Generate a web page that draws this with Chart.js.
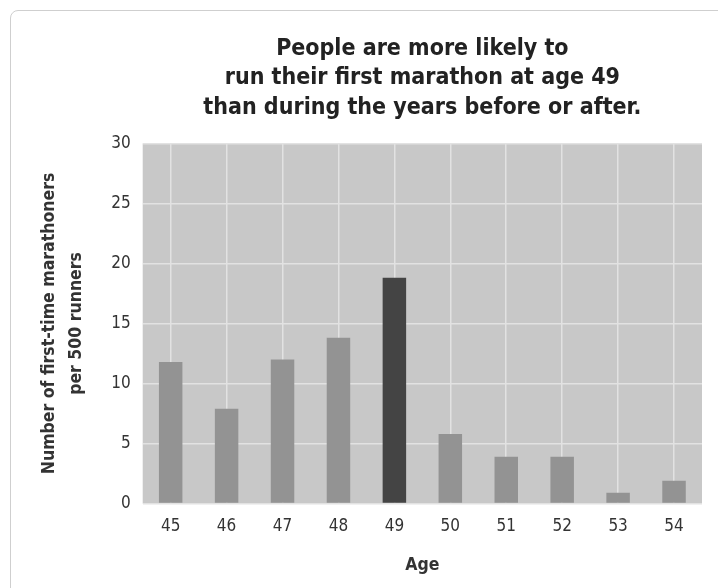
<!DOCTYPE html>
<html>
<head>
<meta charset="utf-8">
<script src="https://cdn.jsdelivr.net/npm/chart.js@4"></script>
<style>
  body { margin: 0; background: #fff; }
  #card {
    position: absolute; left: 10px; top: 10px; width: 740px; height: 600px;
    border: 1px solid #cfcfcf; border-radius: 8px; box-sizing: border-box;
  }
  #wrap { position: absolute; left: 0; top: 0; width: 718px; height: 588px; }
</style>
</head>
<body>
<div id="card"></div>
<div id="wrap"><canvas id="barChart"></canvas></div>
<script>
const ages = ['45', '46', '47', '48', '49', '50', '51', '52', '53', '54'];
const runnersPer500 = [11.8, 7.9, 12, 13.8, 18.8, 5.8, 3.9, 3.9, 0.9, 1.9];
const barColors = ['#939393', '#939393', '#939393', '#939393', '#444444',
                   '#939393', '#939393', '#939393', '#939393', '#939393'];

const FONT = "'Liberation Sans Narrow', 'DejaVu Sans Condensed', 'Liberation Sans', sans-serif";

// grey plot background behind the grid
const plotBg = {
  id: 'plotBg',
  beforeDraw(chart) {
    const { ctx, chartArea: a } = chart;
    ctx.save();
    ctx.fillStyle = '#c8c8c8';
    ctx.fillRect(a.left, a.top, a.right - a.left, a.bottom - a.top);
    ctx.restore();
  }
};

const ctx = document.getElementById('barChart');
const myChart = new Chart(ctx, {
  type: 'bar',
  data: {
    labels: ages,
    datasets: [{
      data: runnersPer500,
      backgroundColor: barColors,
      barPercentage: 0.42,
      categoryPercentage: 1
    }]
  },
  options: {
    responsive: true,
    maintainAspectRatio: false,
    animation: false,
    layout: { padding: { top: 34, left: 32, right: 16, bottom: 8 } },
    scales: {
      x: {
        grid: { offset: false, color: '#e2e2e2', lineWidth: 1.5, drawTicks: false },
        border: { display: false },
        ticks: { padding: 13, color: '#333', font: { family: FONT, size: 17 } },
        title: {
          display: true, text: 'Age', color: '#333', padding: { top: 5 },
          font: { family: FONT, size: 17.5, weight: 'bold' }
        }
      },
      y: {
        min: 0, max: 30,
        grid: { color: '#e2e2e2', lineWidth: 1.5, drawTicks: false },
        border: { display: false },
        ticks: { stepSize: 5, padding: 12, color: '#333', font: { family: FONT, size: 17 } },
        title: {
          display: true, text: ['Number of first-time marathoners', 'per 500 runners'],
          color: '#333', padding: { bottom: 9 },
          font: { family: FONT, size: 17.5, weight: 'bold', lineHeight: 1.55 }
        }
      }
    },
    plugins: {
      legend: { display: false },
      tooltip: { enabled: false },
      title: {
        display: true,
        fullSize: false,
        text: ['People are more likely to', 'run their first marathon at age 49', 'than during the years before or after.'],
        color: '#222',
        font: { family: FONT, size: 23, weight: 'bold', lineHeight: 1.28 },
        padding: { top: 0, bottom: 21 }
      }
    }
  },
  plugins: [plotBg]
});
</script>
</body>
</html>
